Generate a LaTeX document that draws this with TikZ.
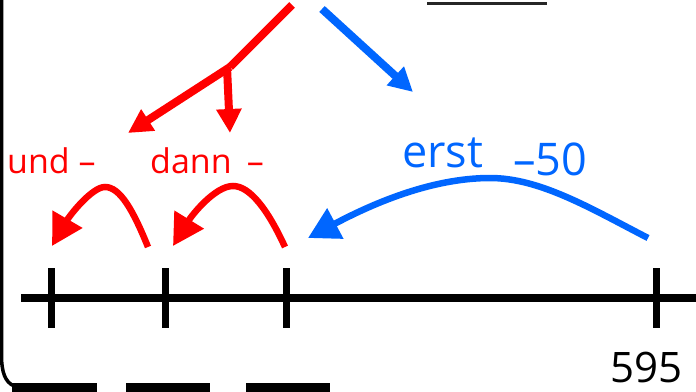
\documentclass[tikz,border=0pt]{standalone}
\usepackage{fontspec}
\setmainfont{Open Sans}
\usepackage{tikz}
\usetikzlibrary{arrows.meta}
\definecolor{arcblue}{RGB}{0,102,255}

\begin{document}
\begin{tikzpicture}[x=1pt,y=-1pt]
		\tikzstyle{redline}=[draw=red,line width=8pt]
		\tikzstyle{blueline}=[draw=arcblue,line width=8pt]
		\tikzstyle{bigtip}=[-{Triangle[length=24pt,width=24pt]}]
		\tikzstyle{arctip}=[-{Triangle[length=31pt,width=33pt]}]
		\tikzstyle{tickmark}=[draw=black,line width=7pt]
		\tikzstyle{redtext}=[text=red,inner sep=0,anchor=base west,font=\fontsize{34}{40}\selectfont]
		\tikzstyle{bluetext}=[text=arcblue,inner sep=0,anchor=base west,font=\fontsize{45}{52}\selectfont]
		\useasboundingbox (0,0) rectangle (696,391);

		\draw[line width=3.5pt] (1.5,-2) -- (1.5,355) .. controls (1.5,372) and (5,382) .. (14,386);
		\foreach \a/\b in {12/97,126/210,246/330}
			\draw[line width=9pt] (\a,387) -- (\b,387);
		\draw[line width=3pt,draw=black!85] (427,3) -- (547,3);

		\coordinate (redtop) at (292,5);
		\coordinate (redfork) at (230,67);
		\coordinate (undtip) at (128,133);
		\coordinate (danntip) at (230,133);
		\coordinate (bluetop) at (322,9);
		\coordinate (bluetip) at (413,92);
		\draw[redline] (redtop) -- (redfork);
		\draw[redline,bigtip] (redfork) -- (undtip);
		\draw[redline,bigtip] ([xshift=-3pt]redfork) -- (danntip);
		\draw[blueline,bigtip] (bluetop) -- (bluetip);

		\node[redtext] (und) at (7,173) {und –};
		\node[redtext] (dann) at (150,173) {dann\hspace{.45em}–};
		\node[bluetext] (erst) at (402,167) {erst};
		\node[bluetext] (minus) at (513,175) {–50};

		\coordinate (lineleft) at (21,298);
		\coordinate (lineright) at (696,298);
		\draw[line width=8pt] (lineleft) -- (lineright);
		\foreach \i/\x in {1/51,2/165,3/286,4/656}
			\draw[tickmark] (\x,268) coordinate (tick\i) -- (\x,328);
		\node[inner sep=0,anchor=base west,font=\fontsize{42}{48}\selectfont] (num) at (610,382) {595};

		\coordinate (arcA) at (148,247);
		\coordinate (arcB) at (285,247);
		\coordinate (arcC) at (648,238);
		\draw[draw=red,line width=6.5pt,arctip] (arcA) .. controls (133,210) and (120,187) .. (105,187)
			.. controls (92,187) and (70,215) .. (52,246);
		\draw[draw=red,line width=6.5pt,arctip] (arcB) .. controls (268,210) and (250,186) .. (233,186)
			.. controls (215,186) and (192,215) .. (173,246);
		\draw[draw=arcblue,line width=6.5pt,arctip] (arcC) .. controls (590,208) and (540,178) .. (490,178)
			.. controls (430,178) and (370,205) .. (308,238);
	\end{tikzpicture}
\end{document}
